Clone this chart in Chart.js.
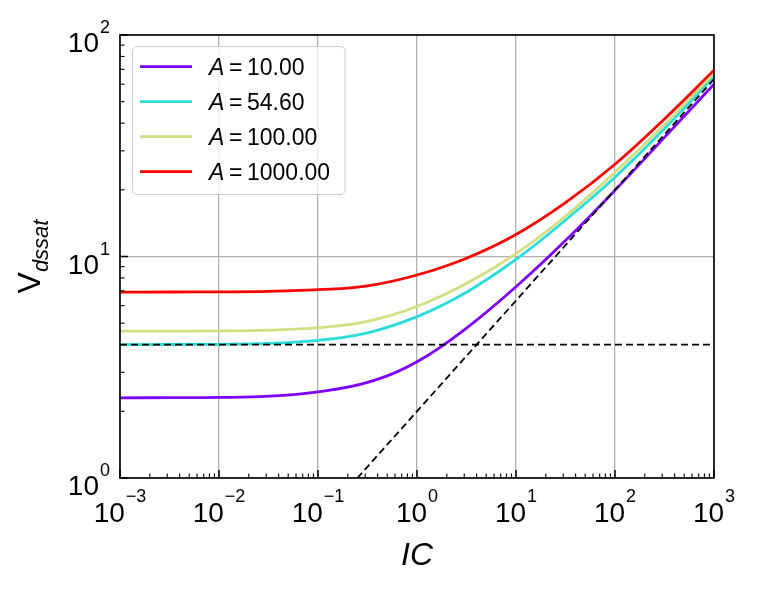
<!DOCTYPE html>
<html>
<head>
<meta charset="utf-8">
<style>
html,body{margin:0;padding:0;background:#fff;}
#wrap{width:757px;height:592px;position:relative;}
canvas{display:block;}
</style>
<script src="https://cdn.jsdelivr.net/npm/chart.js@4.4.0/dist/chart.umd.min.js"></script>
</head>
<body>
<div id="wrap"><canvas id="c" width="757" height="592"></canvas></div>
<script>
// ---- data ----
const icValues = [0.001, 0.00316, 0.01, 0.0316, 0.1, 0.316, 1, 3.16, 10, 31.6, 100, 316, 1000];
const vA10   = [2.300, 2.305, 2.310, 2.34, 2.45, 2.70, 3.35, 4.75, 7.30, 11.8, 19.9, 34.5, 60.0];
const vA54   = [4.000, 4.005, 4.015, 4.05, 4.18, 4.52, 5.35, 6.90, 9.70, 14.6, 22.8, 37.8, 65.0];
const vA100  = [4.600, 4.605, 4.615, 4.65, 4.77, 5.10, 5.95, 7.55, 10.3, 15.2, 24.0, 39.4, 67.0];
const vA1000 = [6.910, 6.915, 6.925, 6.96, 7.08, 7.37, 8.25, 9.82, 12.57, 17.5, 26.1, 41.8, 69.4];
const aValues = [10, 54.6, 100, 1000];
const flatIC = [0.001, 1000];
const flatV  = [4, 4];
const diagIC = [0.25, 1000];
const diagV  = [1, 63.25];
const xTickExps = [-3, -2, -1, 0, 1, 2, 3];
const yTickExps = [0, 1, 2];
const xTitle = 'IC';
const yTitleMain = 'V';
const yTitleSub = 'dssat';

const colors = ['#7f00ff', '#2adddd', '#d4dd80', '#ff0000'];
const series = [vA10, vA54, vA100, vA1000];

function pts(xs, ys) { return xs.map((x, i) => ({ x: x, y: ys[i] })); }
function isMajor(v) { const l = Math.log10(v); return Math.abs(l - Math.round(l)) < 1e-9; }
function tickList(exps) {
  const out = [];
  for (let k = 0; k < exps.length; k++) {
    const base = Math.pow(10, exps[k]);
    out.push({ value: base });
    if (k < exps.length - 1) {
      for (let m = 2; m <= 9; m++) out.push({ value: m * base });
    }
  }
  return out;
}

const datasets = [];
datasets.push({ data: pts(flatIC, flatV), borderColor: '#000', borderWidth: 1.8, borderDash: [7, 4], pointRadius: 0, order: 0, tension: 0 });
datasets.push({ data: pts(diagIC, diagV), borderColor: '#000', borderWidth: 1.8, borderDash: [7, 4], pointRadius: 0, order: 0, tension: 0 });
series.forEach((s, i) => {
  datasets.push({
    data: pts(icValues, s), borderColor: colors[i], borderWidth: 2.8, pointRadius: 0,
    tension: 0.4, order: 4 - i, label: 'A = ' + aValues[i].toFixed(2)
  });
});

const FONT = '"Liberation Sans", Arial, sans-serif';

function drawPow(ctx, exp, x, baseY, supY, align) {
  const main = '10';
  const sup = exp < 0 ? '\u2212' + Math.abs(exp) : String(exp);
  ctx.font = '28px ' + FONT;
  const w1 = ctx.measureText(main).width;
  ctx.font = '18px ' + FONT;
  const w2 = ctx.measureText(sup).width;
  const total = w1 + 1 + w2;
  let start = align === 'center' ? x - total / 2 : x - total;
  ctx.textAlign = 'left';
  ctx.textBaseline = 'alphabetic';
  ctx.fillStyle = '#000';
  ctx.font = '28px ' + FONT;
  ctx.fillText(main, start, baseY);
  ctx.font = '18px ' + FONT;
  ctx.fillText(sup, start + w1 + 1, supY);
}

const decor = {
  id: 'decor',
  afterDraw(chart) {
    const ctx = chart.ctx;
    const a = chart.chartArea;
    const xs = chart.scales.x, ys = chart.scales.y;
    ctx.save();
    // legend
    const lx0 = 132.5, ly0 = 46.5, lx1 = 345, ly1 = 194.5, r = 5;
    ctx.beginPath();
    ctx.moveTo(lx0 + r, ly0);
    ctx.lineTo(lx1 - r, ly0); ctx.quadraticCurveTo(lx1, ly0, lx1, ly0 + r);
    ctx.lineTo(lx1, ly1 - r); ctx.quadraticCurveTo(lx1, ly1, lx1 - r, ly1);
    ctx.lineTo(lx0 + r, ly1); ctx.quadraticCurveTo(lx0, ly1, lx0, ly1 - r);
    ctx.lineTo(lx0, ly0 + r); ctx.quadraticCurveTo(lx0, ly0, lx0 + r, ly0);
    ctx.closePath();
    ctx.fillStyle = 'rgba(255,255,255,0.8)';
    ctx.fill();
    ctx.strokeStyle = '#cccccc';
    ctx.lineWidth = 1;
    ctx.stroke();
    aValues.forEach((av, i) => {
      const yy = 66.7 + 35 * i;
      ctx.strokeStyle = colors[i];
      ctx.lineWidth = 2.8;
      ctx.setLineDash([]);
      ctx.beginPath(); ctx.moveTo(140, yy); ctx.lineTo(192, yy); ctx.stroke();
      ctx.fillStyle = '#000';
      ctx.textAlign = 'left';
      ctx.textBaseline = 'alphabetic';
      ctx.font = 'italic 23px ' + FONT;
      ctx.fillText('A', 209, yy + 8.5);
      ctx.font = '23px ' + FONT;
      ctx.fillText('=', 229, yy + 8.5);
      ctx.fillText(av.toFixed(2), 247, yy + 8.5);
    });
    // inward ticks
    ctx.strokeStyle = '#000';
    ctx.setLineDash([]);
    xs.ticks.forEach(t => {
      const px = xs.getPixelForValue(t.value);
      const maj = isMajor(t.value);
      ctx.lineWidth = maj ? 1.5 : 1.1;
      const len = maj ? 8 : 4.5;
      ctx.beginPath(); ctx.moveTo(px, a.bottom); ctx.lineTo(px, a.bottom - len); ctx.stroke();
    });
    ys.ticks.forEach(t => {
      const py = ys.getPixelForValue(t.value);
      const maj = isMajor(t.value);
      ctx.lineWidth = maj ? 1.5 : 1.1;
      const len = maj ? 8 : 4.5;
      ctx.beginPath(); ctx.moveTo(a.left, py); ctx.lineTo(a.left + len, py); ctx.stroke();
    });
    // frame
    ctx.lineWidth = 1.6;
    ctx.strokeRect(a.left, a.top, a.right - a.left, a.bottom - a.top);
    // tick labels
    xTickExps.forEach(e => {
      const px = xs.getPixelForValue(Math.pow(10, e));
      drawPow(ctx, e, px, a.bottom + 44, a.bottom + 24, 'center');
    });
    yTickExps.forEach(e => {
      const py = ys.getPixelForValue(Math.pow(10, e));
      drawPow(ctx, e, a.left - 10, py + 17, py - 2, 'right');
    });
    // axis titles
    ctx.fillStyle = '#000';
    ctx.font = 'italic 32px ' + FONT;
    ctx.textAlign = 'center';
    ctx.fillText(xTitle, (a.left + a.right) / 2, 565);
    ctx.save();
    const cy = (a.top + a.bottom) / 2;
    ctx.translate(40, cy);
    ctx.rotate(-Math.PI / 2);
    ctx.font = '32px ' + FONT;
    const wV = ctx.measureText(yTitleMain).width;
    ctx.font = 'italic 22px ' + FONT;
    const wS = ctx.measureText(yTitleSub).width;
    const st = -(wV + wS) / 2;
    ctx.textAlign = 'left';
    ctx.font = '32px ' + FONT;
    ctx.fillText(yTitleMain, st, 0);
    ctx.font = 'italic 22px ' + FONT;
    ctx.fillText(yTitleSub, st + wV, 8);
    ctx.restore();
    ctx.restore();
  }
};

const gridColor = c => (c.tick && isMajor(c.tick.value)) ? '#b0b0b0' : 'rgba(0,0,0,0)';

new Chart(document.getElementById('c'), {
  type: 'line',
  data: { datasets: datasets },
  options: {
    responsive: false,
    animation: false,
    events: [],
    layout: { padding: { left: 120, right: 43, top: 35, bottom: 114 } },
    plugins: { legend: { display: false }, tooltip: { enabled: false } },
    elements: { point: { radius: 0 } },
    scales: {
      x: {
        type: 'logarithmic', min: 1e-3, max: 1e3, position: 'bottom',
        border: { display: false },
        grid: { drawTicks: false, color: gridColor, lineWidth: 1.3 },
        ticks: { display: false },
        afterBuildTicks: s => { s.ticks = tickList(xTickExps); },
        afterFit: s => { s.height = 0; }
      },
      y: {
        type: 'logarithmic', min: 1, max: 100, position: 'left',
        border: { display: false },
        grid: { drawTicks: false, color: gridColor, lineWidth: 1.3 },
        ticks: { display: false },
        afterBuildTicks: s => { s.ticks = tickList(yTickExps); },
        afterFit: s => { s.width = 0; }
      }
    }
  },
  plugins: [decor]
});
</script>
</body>
</html>
